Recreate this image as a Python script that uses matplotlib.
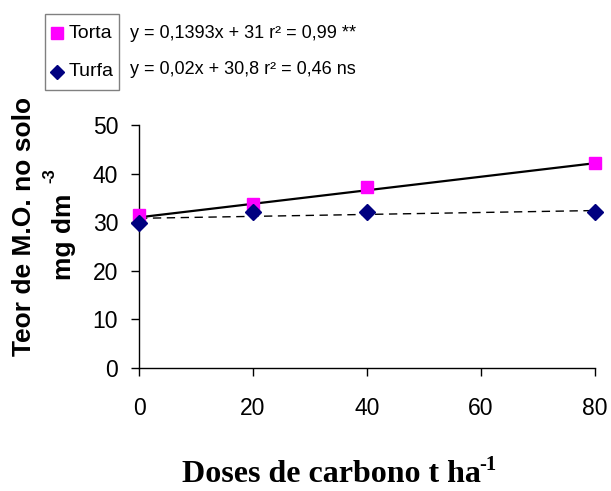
import numpy as np
import matplotlib
matplotlib.use("Agg")
import matplotlib.pyplot as plt
from matplotlib.lines import Line2D
from matplotlib.patches import Rectangle

# data
doses = [0, 20, 40, 80]
torta = [31.5, 33.7, 37.2, 42.1]
turfa = [29.9, 32.0, 32.0, 32.0]

# regression coefficients (slope, intercept)
torta_fit = (0.1393, 31.0)
turfa_fit = (0.02, 30.8)
torta_eq = "y = 0,1393x + 31 r² = 0,99 **"
turfa_eq = "y = 0,02x + 30,8 r² = 0,46 ns"

yticks = [0, 10, 20, 30, 40, 50]
xticks = [0, 20, 40, 60, 80]

plt.rcParams['font.family'] = ['Liberation Sans', 'DejaVu Sans']

W, H = 611, 491
fig = plt.figure(figsize=(6.11, 4.91), dpi=100)
ax = fig.add_axes([139/W, 1-368/H, (595-139)/W, (368-125)/H])

xx = np.array([0, 80])
ax.plot(xx, torta_fit[0]*xx + torta_fit[1], color="black", lw=1.6, zorder=2)
ax.plot(xx, turfa_fit[0]*xx + turfa_fit[1], color="black", lw=1.0,
        ls=(0, (6, 4)), zorder=2)
ax.plot(doses, torta, ls="none", marker="s", ms=9, color="#FF00FF", zorder=3, clip_on=False)
ax.plot(doses, turfa, ls="none", marker="D", ms=8, color="#000080", zorder=4, clip_on=False)

ax.set_xlim(0, 80)
ax.set_ylim(0, 50)
ax.set_xticks(xticks)
ax.set_yticks(yticks)
ax.tick_params(direction="out", length=6, width=1, labelsize=16.5, colors="black")
ax.tick_params(axis="y", pad=9)
ax.tick_params(axis="x", pad=15)
for s in ["top", "right"]:
    ax.spines[s].set_visible(False)
for s in ["left", "bottom"]:
    ax.spines[s].set_linewidth(1)

# y label, two lines
fig.text(24/W, 1-226/H, "Teor de M.O. no solo", rotation=90, ha="center", va="center",
         fontsize=19, fontweight="bold")
fig.text(64/W, 1-237/H, "mg dm", rotation=90, ha="center", va="center",
         fontsize=19, fontweight="bold")
fig.text(50/W, 1-176/H, "-3", rotation=90, ha="center", va="center",
         fontsize=12, fontweight="bold")

# x label
fig.text(331/W, 1-474/H, "Doses de carbono t ha", ha="center", va="center",
         fontsize=23, fontweight="bold", family="Liberation Serif")
fig.text(479/W, 1-465/H, "-1", ha="left", va="center",
         fontsize=15, fontweight="bold", family="Liberation Serif")

# legend box drawn by hand
fig.add_artist(Rectangle((45/W, 1-90/H), 74/W, 76/H, transform=fig.transFigure,
                         facecolor="white", edgecolor="#808080", lw=1))
fig.add_artist(Line2D([57/W], [1-33/H], transform=fig.transFigure, ls="none",
                      marker="s", ms=8, color="#FF00FF"))
fig.add_artist(Line2D([57/W], [1-72/H], transform=fig.transFigure, ls="none",
                      marker="D", ms=7, color="#000080"))
fig.text(69/W, 1-33/H, "Torta", ha="left", va="center", fontsize=14)
fig.text(69/W, 1-72/H, "Turfa", ha="left", va="center", fontsize=14)

fig.text(130/W, 1-33/H, torta_eq, ha="left", va="center", fontsize=13)
fig.text(130/W, 1-70/H, turfa_eq, ha="left", va="center", fontsize=13)

fig.savefig("out.png", dpi=100)
